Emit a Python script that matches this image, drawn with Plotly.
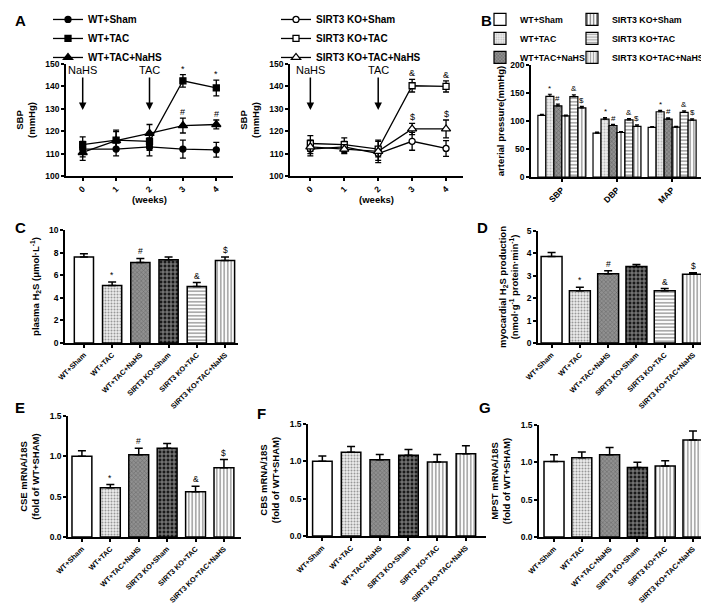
import plotly.graph_objects as go

W, H = 709, 606
FONT = "Liberation Sans, Arial, sans-serif"

# ---- panel A : SBP over weeks ----
WEEKS = [0, 1, 2, 3, 4]
NAHS_WEEK, TAC_WEEK = 0, 2

WT_SHAM = [112, 112, 113, 112, 111.7]
WT_SHAM_ERR = [3.5, 3, 4, 4, 3.3]
WT_TAC = [114, 116, 115.5, 142.5, 139.3]
WT_TAC_ERR = [3.5, 4.5, 4, 2.8, 3.5]
WT_NAHS = [110.5, 115.8, 119, 122.5, 123]
WT_NAHS_ERR = [3.5, 4, 4, 3.3, 2]
WT_TAC_MARK = ["", "", "", "*", "*"]
WT_NAHS_MARK = ["", "", "", "#", "#"]

KO_SHAM = [112, 113, 110, 115.5, 112.3]
KO_SHAM_ERR = [3, 2.5, 3, 4, 3.5]
KO_TAC = [114.5, 114, 112, 140.3, 140]
KO_TAC_ERR = [3.5, 3, 3.5, 2.8, 2.5]
KO_NAHS = [113, 112, 111, 121, 121]
KO_NAHS_ERR = [3, 2, 5, 2.5, 4]
KO_TAC_MARK = ["", "", "", "&", "&"]
KO_NAHS_MARK = ["", "", "", "$", "$"]

# ---- panel B : arterial pressure ----
GROUPS = ["WT+Sham", "WT+TAC", "WT+TAC+NaHS",
          "SIRT3 KO+Sham", "SIRT3 KO+TAC", "SIRT3 KO+TAC+NaHS"]
MEASURES = ["SBP", "DBP", "MAP"]
B_SBP = [110, 143.8, 127, 109, 143.5, 123.5]
B_SBP_ERR = [2, 4, 3, 1.5, 3, 2.5]
B_DBP = [78.5, 103.5, 92, 79.5, 102, 90.5]
B_DBP_ERR = [1.5, 2.5, 2, 1.5, 2.5, 2.5]
B_MAP = [88.5, 116.5, 103.5, 89, 115.5, 101.5]
B_MAP_ERR = [1.5, 2.5, 2, 1.5, 2.5, 2.5]
SIG = ["", "*", "#", "", "&", "$"]

# ---- panels C-G ----
C_VAL = [7.6, 5.09, 7.13, 7.37, 5.0, 7.3]
C_ERR = [0.3, 0.3, 0.35, 0.25, 0.35, 0.3]
D_VAL = [3.86, 2.33, 3.09, 3.41, 2.33, 3.07]
D_ERR = [0.18, 0.16, 0.13, 0.1, 0.1, 0.07]
E_VAL = [1.0, 0.61, 1.02, 1.1, 0.56, 0.86]
E_ERR = [0.07, 0.04, 0.08, 0.06, 0.07, 0.1]
F_VAL = [1.0, 1.12, 1.02, 1.08, 0.99, 1.1]
F_ERR = [0.07, 0.08, 0.07, 0.08, 0.1, 0.11]
G_VAL = [1.01, 1.06, 1.1, 0.93, 0.95, 1.3]
G_ERR = [0.09, 0.08, 0.1, 0.07, 0.07, 0.12]
EFG_SIG = ["", "*", "#", "", "&", "$"]


def px(a):
    return a / W


def py(b):
    return 1 - b / H


def dom_x(a, b):
    return [px(a), px(b)]


def dom_y(top, bottom):
    return [py(bottom), py(top)]


# bar fill styles (shape, fg, bg, size, solidity)
STYLE = {
    "WT+Sham": ("", "black", "white", 4, 0.3),
    "WT+TAC": (".", "#8a8a8a", "#ececec", 3, 0.35),
    "WT+TAC+NaHS": ("x", "#333", "#909090", 3, 0.35),
    "SIRT3 KO+Sham": ("+", "white", "#1a1a1a", 4, 0.45),
    "SIRT3 KO+TAC": ("-", "#444", "white", 3.5, 0.45),
    "SIRT3 KO+TAC+NaHS": ("|", "#444", "white", 3.5, 0.45),
}
STYLE_B = dict(STYLE)
STYLE_B["SIRT3 KO+Sham"] = ("|", "#222", "white", 4, 0.5)
STYLE_EFG = dict(STYLE)
STYLE_EFG["SIRT3 KO+TAC"] = ("|", "#444", "white", 3.5, 0.45)

AX = dict(showline=True, linecolor="black", linewidth=1.5, ticks="outside",
          ticklen=3, tickwidth=1.5, tickcolor="black", showgrid=False,
          zeroline=False, tickfont=dict(family=FONT, size=8.5, weight="bold", color="black"))
TITLE_FONT = dict(family=FONT, size=9.5, weight="bold", color="black")
BAR_TICKS = dict(family=FONT, size=7.3, weight="bold", color="black")

fig = go.Figure()
annotations = []

# ---------- panel A ----------
def add_line(name, y, err, symbol, size, filled, xa, ya, legend, mark=None):
    fig.add_trace(go.Scatter(
        x=WEEKS, y=y, name=name, mode="lines+markers",
        line=dict(color="black", width=1.3),
        marker=dict(symbol=symbol, size=size,
                    color="black" if filled else "white",
                    line=dict(color="black", width=1.3)),
        error_y=dict(type="data", array=err, color="black", thickness=1.3, width=3),
        xaxis=xa, yaxis=ya, legend=legend,
    ))
    if mark:
        for w, v, e, m in zip(WEEKS, y, err, mark):
            if m:
                annotations.append(dict(x=w, y=v + e, xref=xa, yref=ya, text=m,
                                        showarrow=False, yshift=6,
                                        font=dict(family=FONT, size=9, color="black")))


add_line("WT+Sham", WT_SHAM, WT_SHAM_ERR, "circle", 6, True, "x", "y", "legend")
add_line("WT+TAC", WT_TAC, WT_TAC_ERR, "square", 6, True, "x", "y", "legend", WT_TAC_MARK)
add_line("WT+TAC+NaHS", WT_NAHS, WT_NAHS_ERR, "triangle-up", 8, True, "x", "y", "legend", WT_NAHS_MARK)
add_line("SIRT3 KO+Sham", KO_SHAM, KO_SHAM_ERR, "circle", 6, False, "x2", "y2", "legend2")
add_line("SIRT3 KO+TAC", KO_TAC, KO_TAC_ERR, "square", 6, False, "x2", "y2", "legend2", KO_TAC_MARK)
add_line("SIRT3 KO+TAC+NaHS", KO_NAHS, KO_NAHS_ERR, "triangle-up", 8, False, "x2", "y2", "legend2", KO_NAHS_MARK)

for xa, ya in [("x", "y"), ("x2", "y2")]:
    for wk, lab in [(NAHS_WEEK, "NaHS"), (TAC_WEEK, "TAC")]:
        annotations.append(dict(x=wk, y=129.5, xref=xa, yref=ya, text=lab,
                                showarrow=True, arrowhead=2, arrowsize=1, arrowwidth=1.5,
                                arrowcolor="black", ax=0, ay=-40,
                                font=dict(family=FONT, size=11, color="black")))

# ---------- panel B ----------
for i, g in enumerate(GROUPS):
    shp, fg, bg, sz, sol = STYLE_B[g]
    vals = [B_SBP[i], B_DBP[i], B_MAP[i]]
    errs = [B_SBP_ERR[i], B_DBP_ERR[i], B_MAP_ERR[i]]
    fig.add_trace(go.Bar(
        x=[0, 1, 2], y=vals, name=g, width=0.145, offset=-0.435 + i * 0.145,
        marker=dict(color=bg, line=dict(color="black", width=1.2),
                    pattern=dict(shape=shp, fgcolor=fg, bgcolor=bg, size=sz, solidity=sol)),
        error_y=dict(type="data", array=errs, arrayminus=[0, 0, 0], symmetric=False,
                     color="black", thickness=1.2, width=2),
        xaxis="x3", yaxis="y3", legend="legend3" if i < 3 else "legend4",
    ))
    if SIG[i]:
        for j in range(3):
            annotations.append(dict(x=j - 0.435 + (i + 0.5) * 0.145, y=vals[j] + errs[j],
                                    xref="x3", yref="y3", text=SIG[i], showarrow=False,
                                    yshift=6, font=dict(family=FONT, size=8, color="black")))

# ---------- panels C-G ----------
def add_bars(vals, errs, xa, ya, styles, width):
    st = [styles[g] for g in GROUPS]
    fig.add_trace(go.Bar(
        x=GROUPS, y=vals, width=width, showlegend=False,
        marker=dict(color=[s[2] for s in st], line=dict(color="black", width=1.5),
                    pattern=dict(shape=[s[0] for s in st], fgcolor=[s[1] for s in st],
                                 bgcolor=[s[2] for s in st], size=[s[3] for s in st],
                                 solidity=[s[4] for s in st])),
        error_y=dict(type="data", array=errs, arrayminus=[0] * 6, symmetric=False,
                     color="black", thickness=1.5, width=4),
        xaxis=xa, yaxis=ya,
    ))


def add_sig(vals, errs, xa, ya, marks):
    for g, v, e, m in zip(GROUPS, vals, errs, marks):
        if m:
            annotations.append(dict(x=g, y=v + e, xref=xa, yref=ya, text=m, showarrow=False,
                                    yshift=7, font=dict(family=FONT, size=8.5, color="black")))


add_bars(C_VAL, C_ERR, "x4", "y4", STYLE, 0.68)
add_sig(C_VAL, C_ERR, "x4", "y4", SIG)
add_bars(D_VAL, D_ERR, "x5", "y5", STYLE, 0.74)
add_sig(D_VAL, D_ERR, "x5", "y5", SIG)
add_bars(E_VAL, E_ERR, "x6", "y6", STYLE_EFG, 0.7)
add_sig(E_VAL, E_ERR, "x6", "y6", EFG_SIG)
add_bars(F_VAL, F_ERR, "x7", "y7", STYLE_EFG, 0.68)
add_bars(G_VAL, G_ERR, "x8", "y8", STYLE_EFG, 0.72)

# panel letters
for lab, lx, ly in [("A", 12, 12), ("B", 479, 12), ("C", 12, 219), ("D", 474, 219),
                    ("E", 12, 399), ("F", 253, 405), ("G", 477, 399)]:
    annotations.append(dict(x=px(lx), y=py(ly), xref="paper", yref="paper", text=lab,
                            xanchor="center", yanchor="middle", showarrow=False,
                            font=dict(family=FONT, size=15, weight="bold", color="black")))


def xa(dom, rng, anchor, **kw):
    d = dict(AX)
    d.update(domain=dom, range=rng, tickangle=-45, anchor=anchor)
    d.update(kw)
    return d


def ya(dom, rng, anchor, title, dtick, fmt=None, standoff=8):
    d = dict(AX)
    d.update(domain=dom, range=rng, dtick=dtick, anchor=anchor,
             title=dict(text=title, font=TITLE_FONT, standoff=standoff))
    if fmt:
        d["tickformat"] = fmt
    return d


wk_title = dict(text="(weeks)", font=TITLE_FONT, standoff=2)

LEG = dict(yanchor="top", xanchor="left", bgcolor="rgba(0,0,0,0)",
           font=dict(family=FONT, size=10, weight="bold", color="black"), itemwidth=30)
LEG_B = dict(LEG, font=dict(family=FONT, size=8.8, weight="bold", color="black"))

fig.update_layout(
    width=W, height=H, margin=dict(l=0, r=0, t=0, b=0, autoexpand=False),
    paper_bgcolor="white", plot_bgcolor="white",
    font=dict(family=FONT, color="black"),
    annotations=annotations,
    legend=dict(LEG, x=px(40), y=1.005),
    legend2=dict(LEG, x=px(268), y=1.005),
    legend3=dict(LEG_B, x=px(472), y=1.005),
    legend4=dict(LEG_B, x=px(564), y=1.005),
    xaxis=xa(dom_x(58, 225), [-0.5, 4.5], "y", tickvals=WEEKS, title=wk_title),
    yaxis=ya(dom_y(56, 168), [100, 150], "x", "SBP<br>(mmHg)", 10),
    xaxis2=xa(dom_x(282, 455), [-0.6, 4.5], "y2", tickvals=WEEKS, title=wk_title),
    yaxis2=ya(dom_y(56, 168), [100, 150], "x2", "SBP<br>(mmHg)", 10),
    xaxis3=xa(dom_x(523, 695), [-0.56, 2.56], "y3", tickvals=[0, 1, 2], ticktext=MEASURES),
    yaxis3=ya(dom_y(57, 169), [0, 200], "x3", "arterial pressure(mmHg)", 50, standoff=4),
    xaxis4=xa(dom_x(57, 230), [-0.67, 5.46], "y4", tickfont=BAR_TICKS),
    yaxis4=ya(dom_y(222, 335), [0, 10], "x4", "plasma H<sub>2</sub>S (μmol·L<sup>-1</sup>)", 2),
    xaxis5=xa(dom_x(530, 700), [-0.48, 5.53], "y5", tickfont=BAR_TICKS),
    yaxis5=ya(dom_y(223, 335), [0, 5], "x5", "myocardial H<sub>2</sub>S production<br>(nmol·g<sup>-1</sup> protein·min<sup>-1</sup>)", 1, standoff=6),
    xaxis6=xa(dom_x(60, 233), [-0.49, 5.6], "y6", tickfont=BAR_TICKS),
    yaxis6=ya(dom_y(408, 529), [0, 1.5], "x6", "CSE mRNA/18S<br>(fold of WT+SHAM)", 0.5, ".1f"),
    xaxis7=xa(dom_x(300, 478), [-0.5, 5.7], "y7", tickfont=BAR_TICKS),
    yaxis7=ya(dom_y(416, 528), [0, 1.5], "x7", "CBS mRNA/18S<br>(fold of WT+SHAM)", 0.5, ".1f"),
    xaxis8=xa(dom_x(531, 705), [-0.54, 5.72], "y8", tickfont=BAR_TICKS),
    yaxis8=ya(dom_y(417, 529), [0, 1.5], "x8", "MPST mRNA/18S<br>(fold of WT+SHAM)", 0.5, ".1f"),
)

fig.write_html("out.html")
